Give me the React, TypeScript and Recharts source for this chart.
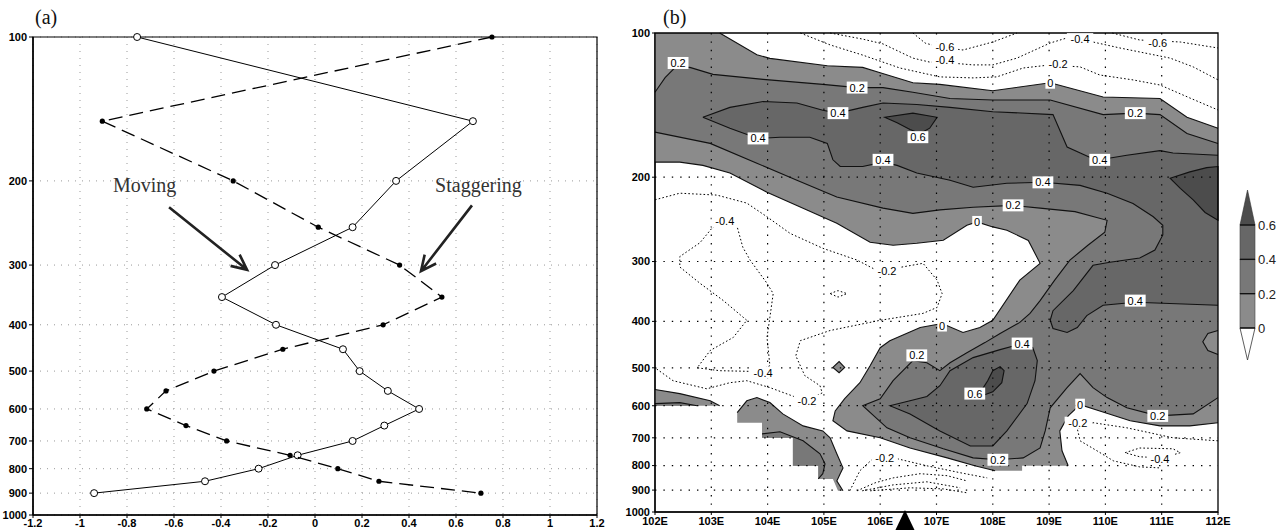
import React from 'react';
import { ScatterChart, Scatter, XAxis, YAxis, CartesianGrid } from 'recharts';

type Pt = [number, number];

// ---------- panel (a): vertical profiles ----------
const pLevels = [100, 150, 200, 250, 300, 350, 400, 450, 500, 550, 600, 650, 700, 750, 800, 850, 900];
const movingX = [-0.757, 0.672, 0.345, 0.16, -0.17, -0.396, -0.166, 0.119, 0.19, 0.31, 0.443, 0.295, 0.16, -0.074, -0.24, -0.468, -0.94];
const staggerX = [0.753, -0.905, -0.348, 0.014, 0.36, 0.54, 0.29, -0.137, -0.43, -0.634, -0.716, -0.549, -0.376, -0.106, 0.097, 0.272, 0.706];
const xTicksA = [-1.2, -1, -0.8, -0.6, -0.4, -0.2, 0, 0.2, 0.4, 0.6, 0.8, 1, 1.2];
const pTicks = [100, 200, 300, 400, 500, 600, 700, 800, 900, 1000];

const movingArrow: Pt[] = [[-0.621, 227], [-0.289, 307]];
const staggerArrow: Pt[] = [[0.668, 225], [0.451, 309]];
const notes: [number, number, string][] = [[-0.86, 211, 'Moving'], [0.511, 211, 'Staggering']];

// ---------- panel (b): lon-pressure section ----------
const xTicksB = [102, 103, 104, 105, 106, 107, 108, 109, 110, 111, 112];
const gridLon = [103, 104, 105, 106, 107, 108, 109, 110, 111];
const gridP = [200, 300, 400, 500, 600, 700, 800, 900];

// solid contours [lon, hPa]
const c0Top: Pt[] = [[103.15, 100], [103.81, 111], [104.04, 113], [105.06, 117], [105.69, 118], [106.0, 121], [106.58, 127], [107.06, 128], [108.0, 132], [109.02, 127], [109.96, 136], [110.97, 137], [111.45, 150], [112, 158]];
const c0Main: Pt[] = [[102, 186], [102.44, 186], [102.85, 189], [103.33, 196], [103.99, 215], [104.7, 234], [105.23, 249.5], [105.82, 273.5], [106.23, 277.5], [106.65, 274.8], [107.12, 270.9], [107.54, 252], [107.72, 248], [108, 254], [108.25, 258], [108.63, 271], [108.84, 302.6], [108.48, 328], [108, 398], [107.77, 412], [107.47, 422], [107.1, 404], [106.71, 412], [106.17, 439], [106, 454], [105.82, 495], [105.64, 537], [105.37, 580], [105.2, 615], [105.16, 645], [105.41, 677], [106, 700], [106.53, 735], [107.19, 771], [107.68, 801], [108.04, 820]];
const c0Br: Pt[] = [[109.34, 801], [109.23, 745], [109.19, 677], [109.34, 630], [109.55, 597], [109.9, 615], [110.44, 645], [110.97, 661], [111.5, 661], [112, 651]];
const maskBlob: Pt[] = [[108.52, 801], [108.52, 820]];
const c2Top: Pt[] = [[102, 133], [102.18, 124], [102.36, 118], [102.62, 118], [103.03, 122], [103.92, 125], [104.98, 128], [105.59, 130], [106.05, 130], [106.58, 133], [107.24, 137], [108, 138], [109.02, 138], [109.96, 148], [110.53, 147], [110.97, 148], [111.45, 162], [112, 170]];
const c2Main: Pt[] = [[102, 161], [102.98, 170], [103.81, 187], [104.52, 203], [105.23, 220], [106.05, 232], [106.58, 238], [107.06, 234], [107.65, 231], [108.36, 229], [108.84, 232], [109.46, 236], [110.03, 246], [109.99, 260.6], [109.69, 277.5], [109.37, 298], [109.1, 328], [108.84, 362], [108.66, 385], [108.48, 402], [108.13, 424], [107.86, 443], [107.54, 465], [107.24, 488], [107.06, 507], [106.83, 488], [106.58, 483], [106.23, 532], [106.0, 580], [105.69, 600], [106.12, 667], [106.53, 700], [107.12, 738], [107.65, 771], [108.09, 778], [108.54, 771], [108.84, 735], [108.93, 677], [109.02, 606], [109.32, 550], [109.55, 514], [109.78, 550], [110.03, 577], [110.38, 606], [110.93, 630], [111.56, 624], [112, 577]];
const c4Top: Pt[] = [[102.85, 150], [103.33, 143], [103.92, 139], [104.52, 140], [104.98, 145], [105.25, 147], [105.69, 143], [106.05, 140], [106.65, 141], [107.24, 143], [108, 146], [109.07, 148], [109.32, 173], [109.73, 182], [109.9, 184], [110.38, 180], [110.97, 176], [111.2, 178], [112, 180]];
const c4Lower: Pt[] = [[112, 370], [110.53, 365], [109.96, 370], [109.67, 389], [109.5, 412], [109.32, 422], [109.07, 414], [109.02, 398], [109.07, 380], [109.43, 345], [109.78, 305.5], [110.08, 301], [110.61, 295], [110.88, 284], [111.02, 264], [111.02, 252], [110.85, 242], [110.49, 227], [110.03, 216], [109.55, 208], [108.89, 205], [108.25, 206], [107.65, 210], [107.24, 203], [106.65, 196], [106.3, 189], [106.05, 186], [105.69, 190], [105.29, 190], [105.16, 184], [105.06, 170], [104.75, 165], [104.22, 165], [103.83, 166], [103.33, 158], [102.85, 150]];
const bump02: Pt[] = [[112, 418], [111.82, 424], [111.73, 441], [111.82, 460], [112, 469]];
const blob04: Pt[] = [[106.17, 600], [106.53, 586], [106.83, 574], [107.06, 545], [107.24, 507], [107.65, 476], [108.13, 458], [108.52, 445], [108.71, 454], [108.79, 483], [108.75, 532], [108.61, 594], [108.25, 677], [108, 728], [107.6, 728], [107.06, 677], [106.53, 624]];
const top06: Pt[] = [[106.08, 150], [106.58, 147], [107.01, 150], [106.88, 158], [106.71, 162], [106.53, 159], [106.3, 154]];
const blob06: Pt[] = [[107.77, 564], [107.91, 532], [108, 507], [108.13, 497], [108.2, 507], [108.16, 537], [108, 561], [107.86, 569]];
const right06: Pt[] = [[111.15, 201], [111.5, 195], [111.8, 191], [112, 190], [112, 246], [111.77, 237], [111.56, 223], [111.33, 211]];
const strip0: Pt[] = [[102, 555], [102.44, 566], [102.98, 586], [103.15, 600]];
const strip2: Pt[] = [[102, 594], [102.44, 591], [102.75, 600]];
const stair0: Pt[] = [[103.46, 620], [103.63, 586], [103.81, 577], [104.04, 591], [104.27, 624], [104.63, 661], [104.98, 677], [105.11, 700], [105.23, 756], [105.34, 809], [105.29, 832], [105.23, 861], [105.34, 903]];
const stairMask: Pt[] = [[105.25, 903], [105.16, 853], [104.9, 853], [104.9, 801], [104.45, 801], [104.45, 700], [103.9, 700], [103.9, 651], [103.46, 651]];
const stair2: Pt[] = [[103.9, 687], [104.22, 680], [104.63, 710], [104.93, 756], [105.02, 793], [104.98, 832], [104.9, 853]];
const stair2Mask: Pt[] = [[104.9, 801], [104.45, 801], [104.45, 700], [103.9, 700]];
const diamond0: Pt[] = [[105.16, 499], [105.27, 485], [105.37, 499], [105.27, 512]];

// dotted (negative) contours
const negLines: Pt[][] = [
  [[106.58, 100], [106.8, 105], [107.06, 107], [107.47, 108.5], [108, 104.4], [108.43, 100]],
  [[105.11, 100], [105.69, 103], [106.05, 105.4], [106.58, 112.8], [106.88, 115], [107.06, 115], [107.65, 116.6], [108, 116.6], [108.43, 112.8], [109.02, 104.9], [109.32, 102.4], [109.78, 104.4], [110.26, 107.5], [110.7, 110.1], [111.15, 112.8], [111.56, 117.7], [112, 125.3]],
  [[104.58, 100], [105.11, 105.9], [105.69, 111.2], [106.35, 118.3], [107.06, 123.5], [107.65, 124.1], [108.07, 123.5], [108.54, 118.3], [109.02, 116.6], [109.55, 117.7], [109.9, 122.4], [110.49, 125.3], [110.97, 128.4], [111.5, 136.7], [112, 144.8]],
  [[110.12, 100], [110.61, 103.4], [111.33, 104.4], [112, 107.5]],
  [[102, 223], [102.44, 216], [103.1, 218], [103.63, 226.5], [103.99, 242], [104.4, 262], [104.98, 281.5], [105.59, 298], [105.94, 313], [106.35, 308.5], [106.76, 302.6], [107.01, 328], [107.1, 350], [107.01, 374], [106.76, 385], [106, 398], [105.11, 418], [104.58, 439], [104.5, 472], [104.66, 519], [104.93, 545], [104.97, 564], [104.7, 586], [104.52, 577], [104.04, 550], [103.63, 532], [103.33, 537], [102.92, 553], [102.32, 532], [102, 500]],
  [[103.24, 248], [103.03, 254], [102.8, 274], [102.44, 293], [102.44, 308], [102.8, 333], [103.21, 361.6], [103.63, 398], [103.39, 432], [102.98, 460], [102.75, 500], [103.15, 507], [103.81, 509], [104.04, 495], [103.99, 432], [104.04, 392], [104.1, 350], [103.99, 333], [103.69, 298], [103.56, 280], [103.46, 254], [103.24, 248]],
  [[105.11, 350], [105.25, 345], [105.41, 350], [105.25, 356], [105.11, 350]],
  [[105.46, 903], [105.64, 820], [105.87, 774], [106.3, 774], [106.83, 801], [107.42, 828], [107.9, 849]],
  [[105.59, 903], [105.91, 869], [106.23, 849], [106.71, 832], [107.19, 840], [107.54, 861]],
  [[105.68, 903], [106.23, 878], [106.83, 865], [107.42, 890]],
  [[105.82, 903], [106.53, 890], [107.12, 895], [107.54, 912]],
  [[112, 710], [111.2, 700], [110.38, 667], [109.78, 651], [109.5, 670], [109.55, 710], [109.85, 745], [110.14, 782], [110.61, 805], [110.97, 809]],
  [[110.35, 752], [110.61, 735], [111.2, 738], [111.33, 752], [111.02, 771], [110.61, 767], [110.35, 752]],
];

const contourLabels: [number, number, string][] = [
  [102.41, 115.5, '0.2'], [103.83, 166, '0.4'], [105.59, 130, '0.2'], [105.25, 147, '0.4'], [106.67, 165, '0.6'],
  [106.05, 184, '0.4'], [109.02, 127, '0'], [110.53, 147, '0.2'], [109.9, 184, '0.4'], [108.89, 205, '0.4'],
  [108.36, 229, '0.2'], [107.72, 248, '0'], [107.1, 408, '0'], [106.65, 471, '0.2'], [108.52, 445, '0.4'],
  [107.68, 566, '0.6'], [110.53, 362, '0.4'], [109.55, 597, '0'], [110.93, 630, '0.2'], [108.09, 778, '0.2'],
  [107.15, 107, '-0.6'], [107.15, 114, '-0.4'], [109.16, 116, '-0.2'], [109.55, 103, '-0.4'], [110.93, 105, '-0.6'],
  [103.24, 247, '-0.4'], [106.12, 314, '-0.2'], [103.92, 512, '-0.4'], [104.7, 586, '-0.2'], [106.08, 771, '-0.2'],
  [109.51, 651, '-0.2'], [110.97, 774, '-0.4'],
];
const marker: Pt[] = [[106.44, 1000]];

const cbLevels = [0, 0.2, 0.4, 0.6];
const cbFills = ['#8b8b8b', '#787878', '#676767'];

const LIGHT = '#8b8b8b';
const MID = '#787878';
const DARK = '#676767';
const TOP = '#4c4c4c';

const sans = 'Liberation Sans, Arial, sans-serif';
const tickStyle = { fontSize: 11, fontWeight: 700, fill: '#000', fontFamily: sans };

const rowsB = (a: Pt[]) => a.map(([lon, p]) => ({ lon, p }));
const rowsA = (a: Pt[]) => a.map(([x, p]) => ({ x, p }));
const rev = (a: Pt[]) => a.slice().reverse();

const pathOf = (pts: { x: number; y: number }[], closed: boolean) =>
  pts.map((q, i) => `${i ? 'L' : 'M'}${q.x.toFixed(1)},${q.y.toFixed(1)}`).join('') + (closed ? 'Z' : '');

const noDot = () => <g />;

function series(key: string, pts: Pt[], fill: string, stroke: string, closed: boolean, dash?: string, width = 1.1) {
  return (
    <Scatter
      key={key}
      data={rowsB(pts)}
      isAnimationActive={false}
      shape={noDot}
      lineType="joint"
      line={(lp: any) => (
        <path d={pathOf(lp.points, closed)} fill={fill} stroke={stroke} strokeWidth={width} strokeDasharray={dash} />
      )}
    />
  );
}

const OpenDot = (props: any) => <circle cx={props.cx} cy={props.cy} r={3.5} fill="#fff" stroke="#000" strokeWidth={1} />;
const FilledDot = (props: any) => <circle cx={props.cx} cy={props.cy} r={2.6} fill="#000" />;

const arrowLine = (lp: any) => {
  const [a, b] = lp.points;
  const ang = Math.atan2(b.y - a.y, b.x - a.x);
  const h = 17;
  const l = { x: b.x - h * Math.cos(ang - 0.44), y: b.y - h * Math.sin(ang - 0.44) };
  const r = { x: b.x - h * Math.cos(ang + 0.44), y: b.y - h * Math.sin(ang + 0.44) };
  return (
    <path
      d={`M${a.x},${a.y}L${b.x},${b.y}M${l.x},${l.y}L${b.x},${b.y}L${r.x},${r.y}`}
      stroke="#222"
      strokeWidth={2.6}
      fill="none"
    />
  );
};

const NoteText = (props: any) => {
  const t = props.payload?.t ?? props.t;
  return (
    <text x={props.cx} y={props.cy} fontSize={20} fontFamily="Liberation Serif, serif" fill="#333">
      {t}
    </text>
  );
};

const LabelShape = (props: any) => {
  const t: string = props.payload?.t ?? props.t;
  const w = t.length * 5.6 + 4;
  return (
    <g>
      <rect x={props.cx - w / 2} y={props.cy - 6} width={w} height={12} fill="#fff" />
      <text x={props.cx} y={props.cy + 4} textAnchor="middle" fontSize={11} fontFamily={sans} fill="#000">
        {t}
      </text>
    </g>
  );
};

const Triangle = (props: any) => (
  <path d={`M${props.cx},${props.cy - 2}L${props.cx + 10},${props.cy + 19}L${props.cx - 10},${props.cy + 19}Z`} fill="#000" />
);

function PanelA() {
  const moving = pLevels.map((p, i) => ({ x: movingX[i], p }));
  const stagger = pLevels.map((p, i) => ({ x: staggerX[i], p }));
  return (
    <ScatterChart width={620} height={530} margin={{ top: 37, right: 23, bottom: 0, left: 3 }}>
      <CartesianGrid stroke="#999" strokeDasharray="1 6" />
      <XAxis
        type="number"
        dataKey="x"
        domain={[-1.2, 1.2]}
        ticks={xTicksA}
        interval={0}
        height={15}
        tickSize={3}
        tickMargin={1}
        tick={tickStyle}
        axisLine={{ stroke: '#000', strokeWidth: 1.5 }}
        tickLine={{ stroke: '#000' }}
      />
      <YAxis
        type="number"
        dataKey="p"
        scale="log"
        domain={[100, 1000]}
        reversed
        ticks={pTicks}
        interval={0}
        width={30}
        tickSize={4}
        tickMargin={2}
        tick={tickStyle}
        axisLine={{ stroke: '#000', strokeWidth: 1.5 }}
        tickLine={{ stroke: '#000' }}
      />
      <Scatter data={rowsA([[-1.2, 100], [1.2, 100], [1.2, 1000], [-1.2, 1000]])} isAnimationActive={false} shape={noDot}
        lineType="joint" line={(lp: any) => <path d={pathOf(lp.points, true)} fill="none" stroke="#000" strokeWidth={1.2} />} />
      <Scatter data={moving} isAnimationActive={false} lineType="joint" line={{ stroke: '#000', strokeWidth: 1 }} shape={OpenDot} />
      <Scatter data={stagger} isAnimationActive={false} lineType="joint" line={{ stroke: '#000', strokeWidth: 1.3, strokeDasharray: '14 7' }} shape={FilledDot} />
      <Scatter data={rowsA(movingArrow)} isAnimationActive={false} lineType="joint" line={arrowLine} shape={noDot} />
      <Scatter data={rowsA(staggerArrow)} isAnimationActive={false} lineType="joint" line={arrowLine} shape={noDot} />
      <Scatter data={notes.map(([x, p, t]) => ({ x, p, t }))} isAnimationActive={false} shape={NoteText} />
    </ScatterChart>
  );
}

function PanelB() {
  const fills = [
    series('f0', [[102, 100], ...c0Top, ...rev(c0Br), ...maskBlob, ...rev(c0Main)], LIGHT, 'none', true),
    series('f0s', [...strip0, [102, 600]], LIGHT, 'none', true),
    series('f0c', [...stair0, ...stairMask], LIGHT, 'none', true),
    series('f0d', diamond0, LIGHT, 'none', true),
    series('f2', [...c2Top, ...rev(c2Main)], MID, 'none', true),
    series('f2s', [...strip2, [102, 600]], MID, 'none', true),
    series('f2c', [...stair2, ...stair2Mask], MID, 'none', true),
    series('f0b', bump02, LIGHT, 'none', true),
    series('f4', [...c4Top, ...c4Lower], DARK, 'none', true),
    series('f4b', blob04, DARK, 'none', true),
    series('f6a', top06, TOP, 'none', true),
    series('f6b', blob06, TOP, 'none', true),
    series('f6c', right06, TOP, 'none', true),
  ];
  const solid = [c0Top, c0Main, c0Br, c2Top, c2Main, c4Top, c4Lower, bump02, strip0, strip2, stair0, stair2].map((c, i) =>
    series(`s${i}`, c, 'none', '#111', false),
  );
  const solidClosed = [blob04, top06, blob06, right06, diamond0].map((c, i) => series(`sc${i}`, c, 'none', '#111', true));
  const dotted = negLines.map((c, i) => series(`n${i}`, c, 'none', '#000', false, '1.6 2.2', 1));
  const grid = [
    ...gridLon.map((lon) => series(`gx${lon}`, [[lon, 100], [lon, 1000]], 'none', '#000', false, '1.4 7', 1.2)),
    ...gridP.map((p) => series(`gy${p}`, [[102, p], [112, p]], 'none', '#000', false, '1.4 7', 1.2)),
  ];
  return (
    <ScatterChart width={661} height={530} margin={{ top: 33, right: 63, bottom: 0, left: 5 }}>
      <XAxis
        type="number"
        dataKey="lon"
        domain={[102, 112]}
        ticks={xTicksB}
        interval={0}
        height={18}
        tickSize={3}
        tickMargin={2}
        tick={tickStyle}
        tickFormatter={(v: number) => `${v}E`}
        axisLine={{ stroke: '#000', strokeWidth: 1.2 }}
        tickLine={{ stroke: '#000' }}
      />
      <YAxis
        type="number"
        dataKey="p"
        scale="log"
        domain={[100, 1000]}
        reversed
        ticks={pTicks}
        interval={0}
        width={30}
        tickSize={3}
        tickMargin={2}
        tick={tickStyle}
        axisLine={{ stroke: '#000', strokeWidth: 1.2 }}
        tickLine={{ stroke: '#000' }}
      />
      {fills}
      {solid}
      {solidClosed}
      {dotted}
      {grid}
      {series('frame', [[102, 100], [112, 100], [112, 1000], [102, 1000]], 'none', '#000', true, undefined, 1.3)}
      <Scatter data={contourLabels.map(([lon, p, t]) => ({ lon, p, t }))} isAnimationActive={false} shape={LabelShape} />
      <Scatter data={rowsB(marker)} isAnimationActive={false} shape={Triangle} />
    </ScatterChart>
  );
}

function ColorBar() {
  const x0 = 10;
  const w = 15;
  const yZero = 148;
  const step = 34.33;
  const y = (v: number) => yZero - (v / 0.2) * step;
  const yTop = y(cbLevels[cbLevels.length - 1]);
  return (
    <svg width={51} height={190} style={{ position: 'absolute', left: 1230, top: 180 }}>
      <path d={`M${x0},${yTop}L${x0 + w / 2},${yTop - 35}L${x0 + w},${yTop}Z`} fill={TOP} stroke="#333" strokeWidth={0.6} />
      {cbFills.map((f, i) => (
        <rect key={i} x={x0} y={y(cbLevels[i + 1])} width={w} height={step} fill={f} stroke="#444" strokeWidth={0.6} />
      ))}
      <path d={`M${x0},${yZero}L${x0 + w / 2},${yZero + 32}L${x0 + w},${yZero}Z`} fill="#fff" stroke="#333" strokeWidth={0.8} />
      {cbLevels.map((v) => (
        <g key={v}>
          <line x1={x0} x2={x0 + w} y1={y(v)} y2={y(v)} stroke="#111" strokeWidth={1.4} />
          <text x={x0 + w + 3} y={y(v) + 5} fontSize={13} fontFamily={sans} fill="#222">
            {v}
          </text>
        </g>
      ))}
    </svg>
  );
}

export default function App() {
  const title = { position: 'absolute' as const, top: 7, fontSize: 20, lineHeight: 1, fontFamily: 'Liberation Serif, serif', color: '#111' };
  return (
    <div style={{ position: 'absolute', left: 0, top: 0, width: 1281, height: 530, background: '#fff' }}>
      <div style={{ position: 'absolute', left: 0, top: 0 }}>
        <PanelA />
      </div>
      <div style={{ position: 'absolute', left: 620, top: 0 }}>
        <PanelB />
      </div>
      <div style={{ ...title, left: 35 }}>(a)</div>
      <div style={{ ...title, left: 663 }}>(b)</div>
      <ColorBar />
    </div>
  );
}
